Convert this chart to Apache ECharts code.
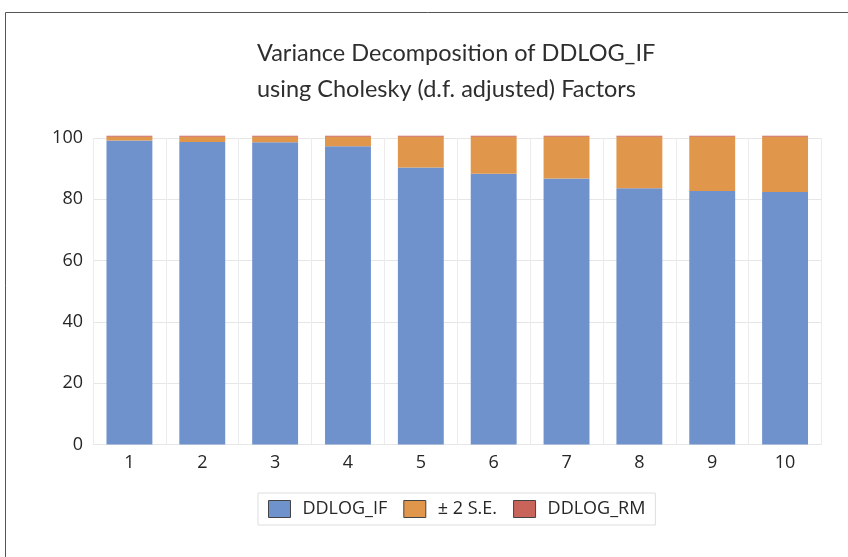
<!DOCTYPE html>
<html>
<head>
<meta charset="utf-8">
<script src="https://cdn.jsdelivr.net/npm/echarts@6/dist/echarts.min.js"></script>
<style>
  html, body { margin: 0; padding: 0; background: #fff; }
  #main { width: 848px; height: 557px; }
</style>
</head>
<body>
<div id="main"></div>
<script>
// periods on the x axis
const periods = ['1', '2', '3', '4', '5', '6', '7', '8', '9', '10'];
// stacked shares
const ddlogIf = [99.2, 98.7, 98.6, 97.3, 90.4, 88.3, 86.8, 83.6, 82.7, 82.4];
const twoSe = [1.2, 1.7, 1.8, 3.1, 10.0, 12.1, 13.6, 16.8, 17.7, 18.0];
const ddlogRm = [0.3, 0.3, 0.3, 0.3, 0.3, 0.3, 0.3, 0.3, 0.3, 0.3];
const yTicks = [0, 20, 40, 60, 80, 100];

const chart = echarts.init(document.getElementById('main'));

function barSeries(name, data, color) {
  return {
    name: name,
    type: 'bar',
    stack: 'total',
    data: data,
    clip: false,
    barCategoryGap: '37%',
    itemStyle: { color: color },
    emphasis: { disabled: true }
  };
}

const option = {
  animation: false,
  backgroundColor: '#fff',
  textStyle: { fontFamily: 'Open Sans' },
  title: {
    text: 'Variance Decomposition of DDLOG_IF\nusing Cholesky (d.f. adjusted) Factors',
    left: 257,
    top: 35,
    padding: 0,
    textStyle: {
      fontFamily: 'Lato',
      fontWeight: 'normal',
      fontSize: 23.5,
      lineHeight: 36,
      color: '#2e2e2e'
    }
  },
  graphic: [{
    type: 'rect',
    shape: { x: 5.5, y: 12.5, width: 900, height: 600 },
    style: { fill: 'none', stroke: '#555', lineWidth: 1 },
    silent: true
  }],
  legend: {
    left: 258,
    top: 493,
    padding: [7, 10, 7, 10],
    borderColor: '#dedede',
    borderWidth: 1,
    itemWidth: 22,
    itemHeight: 17,
    itemGap: 16,
    icon: 'rect',
    itemStyle: { borderColor: '#444', borderWidth: 1 },
    textStyle: { fontSize: 18, color: '#262626', padding: [0, 0, 0, 7] },
    data: ['DDLOG_IF', '± 2 S.E.', 'DDLOG_RM']
  },
  grid: { left: 93, right: 26.5, top: 138, bottom: 112.5 },
  xAxis: {
    type: 'category',
    data: periods,
    axisLine: { show: false },
    axisTick: { show: false },
    axisLabel: { fontSize: 18, color: '#262626', margin: 9 },
    splitLine: { show: true, lineStyle: { color: '#ececec' } }
  },
  yAxis: {
    type: 'value',
    min: yTicks[0],
    max: yTicks[yTicks.length - 1],
    interval: 20,
    axisLine: { show: false },
    axisTick: { show: false },
    axisLabel: { fontSize: 18, color: '#262626', margin: 10 },
    splitLine: { lineStyle: { color: '#e6e6e6' } }
  },
  series: [
    barSeries('DDLOG_IF', ddlogIf, '#7092cc'),
    barSeries('± 2 S.E.', twoSe, '#e0964b'),
    barSeries('DDLOG_RM', ddlogRm, '#c8645a')
  ]
};

chart.setOption(option);
</script>
</body>
</html>
